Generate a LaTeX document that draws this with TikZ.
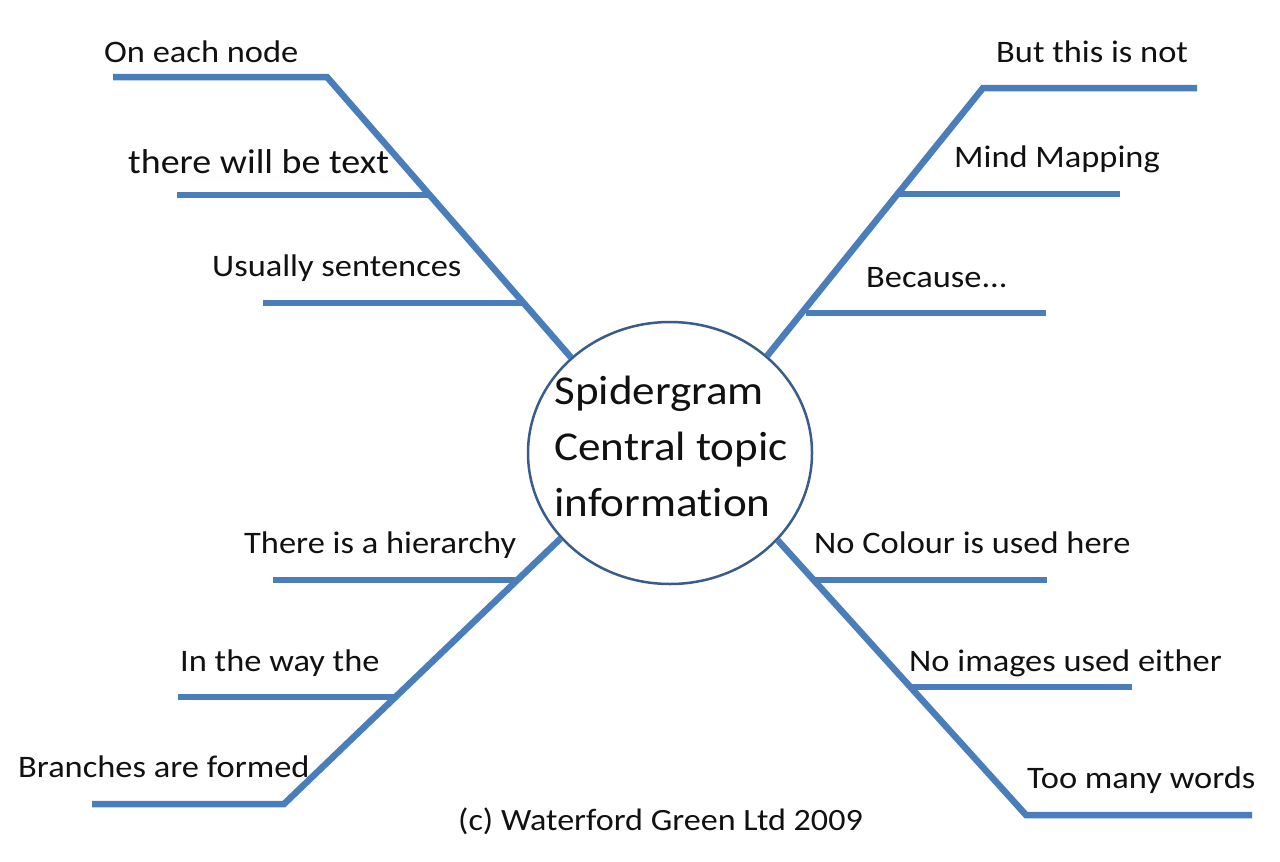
\documentclass[tikz,border=0pt]{standalone}
\usepackage{fontspec}
\setmainfont{Carlito}[FakeStretch=1.1, Ligatures=NoCommon]
\usetikzlibrary{shapes.geometric}
\definecolor{branch}{HTML}{4A7EBB}
\definecolor{rim}{HTML}{385D8A}
\definecolor{ink}{HTML}{111111}
\begin{document}
\begin{tikzpicture}[x=1pt,y=-1pt,
  branchline/.style={draw=branch, line width=6.5pt},
  lbl/.style={anchor=base west, inner sep=0pt, font=\fontsize{31.3}{38}\selectfont, text=ink}]
\useasboundingbox (0,0) rectangle (1280,862);
\fill[white] (0,0) rectangle (1280,862);
% central topic
\node[ellipse, draw=rim, line width=2.5pt, minimum width=284pt, minimum height=262pt,
  inner sep=0pt] (c) at (670,453) {};
\node[align=left, inner sep=0pt, text=ink, font=\fontsize{41}{56}\selectfont] (ctext) at (671,446)
  {Spidergram\\Central topic\\information};
% top-left branch
\coordinate (tl1) at (327,77);  \coordinate (tl1e) at (113,77);
\coordinate (tl2) at (429,195); \coordinate (tl2e) at (177,195);
\coordinate (tl3) at (523,303); \coordinate (tl3e) at (263,303);
\draw[branchline] (c.136) -- (tl1) -- (tl1e);
\draw[branchline] (tl2) -- (tl2e);
\draw[branchline] (tl3) -- (tl3e);
\node[lbl] (ltl1) at (104,62) {On each node};
\node[lbl, font=\fontsize{34.5}{40}\selectfont] (ltl2) at (128,173) {there will be text};
\node[lbl] (ltl3) at (212,276) {Usually sentences};
% top-right branch
\coordinate (tr1) at (983,88);  \coordinate (tr1e) at (1197,88);
\coordinate (tr2) at (899,194); \coordinate (tr2e) at (1120,194);
\coordinate (tr3) at (806,313); \coordinate (tr3e) at (1046,313);
\draw[branchline] (c.45) -- (tr1) -- (tr1e);
\draw[branchline] (tr2) -- (tr2e);
\draw[branchline] (tr3) -- (tr3e);
\node[lbl] (ltr1) at (996,62) {But this is not};
\node[lbl] (ltr2) at (954,167) {Mind Mapping};
\node[lbl] (ltr3) at (866,287) {Because...};
% bottom-left branch
\coordinate (bl1) at (284,804); \coordinate (bl1e) at (92,804);
\coordinate (bl2) at (396,697); \coordinate (bl2e) at (178,697);
\coordinate (bl3) at (519,580); \coordinate (bl3e) at (273,580);
\draw[branchline] (c.218.5) -- (bl1) -- (bl1e);
\draw[branchline] (bl2) -- (bl2e);
\draw[branchline] (bl3) -- (bl3e);
\node[lbl] (lbl1) at (18,777) {Branches are formed};
\node[lbl] (lbl2) at (180,671) {In the way the};
\node[lbl] (lbl3) at (244,553) {There is a hierarchy};
% bottom-right branch
\coordinate (br1) at (1026,815); \coordinate (br1e) at (1252,815);
\coordinate (br2) at (910,687);  \coordinate (br2e) at (1132,687);
\coordinate (br3) at (813,580);  \coordinate (br3e) at (1047,580);
\draw[branchline] (c.321.6) -- (br1) -- (br1e);
\draw[branchline] (br2) -- (br2e);
\draw[branchline] (br3) -- (br3e);
\node[lbl] (lbr1) at (1027,788) {Too many words};
\node[lbl] (lbr2) at (909,671) {No images used either};
\node[lbl] (lbr3) at (814,553) {No Colour is used here};
% footer
\node[lbl, font=\fontsize{31}{38}\selectfont] (copy) at (458,830) {(c) Waterford Green Ltd 2009};
\end{tikzpicture}
\end{document}
